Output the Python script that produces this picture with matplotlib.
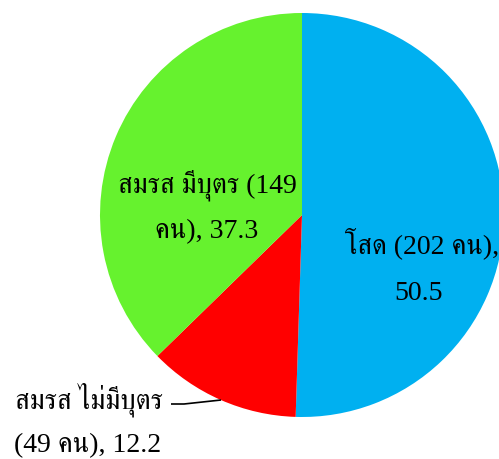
import matplotlib
matplotlib.use("Agg")
import matplotlib.pyplot as plt

categories = ["โสด", "สมรส ไม่มีบุตร", "สมรส มีบุตร"]
counts = [202, 49, 149]
percents = [50.5, 12.2, 37.3]
colors = ["#00B0F0", "#FF0000", "#66F22E"]

FAM = ["Liberation Serif", "FreeSerif"]
W, H = 499, 460
cx, cy, r = 302, 216, 202

fig = plt.figure(figsize=(W / 100, H / 100), dpi=100)
ax = fig.add_axes([0, 0, 1, 1])

ax.pie(percents, colors=colors, startangle=90, counterclock=False,
       radius=1.0, center=(0, 0), wedgeprops=dict(linewidth=0))
ax.set_xlim((0 - cx) / r, (W - cx) / r)
ax.set_ylim((cy - H) / r, (cy - 0) / r)
ax.set_aspect("equal", adjustable="box")
ax.axis("off")

def px(x, y):
    return ((x - cx) / r, (cy - y) / r)

fs = 20
labels = [
    (f"{categories[0]} ({counts[0]} คน),", f"{percents[0]}", (422, 243), (419, 293)),
    (f"{categories[1]}", f"({counts[1]} คน), {percents[1]}", (89, 400), (88, 446)),
    (f"{categories[2]} ({counts[2]}", f"คน), {percents[2]}", (207, 185), (207, 232)),
]
for l1, l2, p1, p2 in labels:
    ax.text(*px(*p1), l1, ha="center", va="center", fontsize=fs, family=FAM)
    ax.text(*px(*p2), l2, ha="center", va="center", fontsize=fs, family=FAM)

# leader line from red label to red slice
pts = [px(171, 405), px(184, 405), px(221, 401)]
ax.plot([p[0] for p in pts], [p[1] for p in pts], color="black", lw=1.2,
        solid_capstyle="butt")

fig.savefig("out.png", dpi=100)
